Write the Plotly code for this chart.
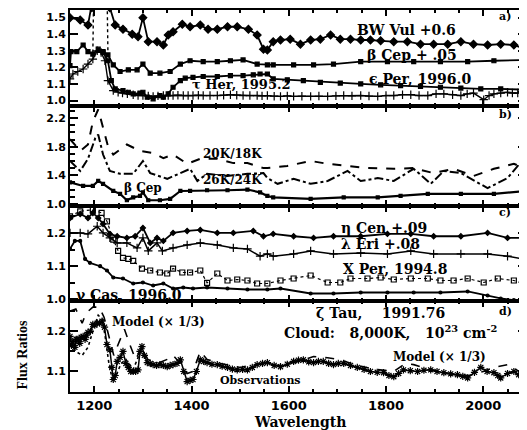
import plotly.graph_objects as go
from plotly.subplots import make_subplots

# ---------------- Panel a ----------------
a_bwvul_x = [1150, 1171, 1187, 1195, 1205, 1225, 1232, 1243, 1259, 1278, 1290, 1300, 1311, 1329, 1342, 1352, 1362,
             1381, 1397, 1418, 1434, 1453, 1474, 1494, 1517, 1535, 1548, 1556, 1568, 1583, 1603, 1624, 1645, 1665,
             1686, 1706, 1727, 1748, 1768, 1789, 1816, 1844, 1871, 1898, 1927, 1954, 1980, 2009, 2036, 2063, 2088]
a_bwvul_y = [1.50, 1.485, 1.455, 1.56, 1.75, 1.75, 1.56, 1.455, 1.43, 1.40, 1.385, 1.50, 1.355, 1.355, 1.335, 1.395, 1.415,
             1.46, 1.445, 1.455, 1.43, 1.43, 1.445, 1.445, 1.43, 1.395, 1.31, 1.305, 1.355, 1.365, 1.37, 1.34, 1.365, 1.37,
             1.395, 1.37, 1.37, 1.365, 1.365, 1.36, 1.355, 1.355, 1.34, 1.34, 1.34, 1.355, 1.34, 1.335, 1.34, 1.335, 1.31]

a_bcep_x = [1150, 1152, 1164, 1177, 1187, 1197, 1208, 1218, 1228, 1239, 1253, 1270, 1288, 1300, 1315, 1335, 1356, 1377,
            1397, 1424, 1453, 1480, 1506, 1535, 1556, 1568, 1610, 1651, 1692, 1748, 1803, 1857, 1912, 1968, 2022, 2088]
a_bcep_y = [1.21, 1.295, 1.295, 1.335, 1.295, 1.28, 1.31, 1.295, 1.275, 1.215, 1.175, 1.185, 1.185, 1.22, 1.165, 1.165,
            1.175, 1.22, 1.24, 1.235, 1.235, 1.24, 1.245, 1.22, 1.215, 1.215, 1.215, 1.215, 1.22, 1.235, 1.235, 1.235,
            1.235, 1.235, 1.24, 1.245]

a_eper_x = [1218, 1228, 1235, 1243, 1259, 1270, 1280, 1294, 1300, 1309, 1321, 1335, 1342, 1352, 1362, 1377, 1387, 1403,
            1424, 1453, 1480, 1506, 1527, 1541, 1556, 1568, 1597, 1630, 1665, 1706, 1748, 1789, 1830, 1871, 1912, 1954,
            1995, 2036, 2088]
a_eper_y = [1.29, 1.24, 1.12, 1.07, 1.06, 1.05, 1.04, 1.045, 1.05, 1.02, 1.01, 1.03, 1.02, 1.04, 1.08, 1.12, 1.135, 1.14,
            1.145, 1.145, 1.15, 1.15, 1.155, 1.16, 1.16, 1.13, 1.125, 1.12, 1.11, 1.105, 1.10, 1.095, 1.09, 1.085, 1.08,
            1.075, 1.07, 1.07, 1.065]

a_ther_x = [1150, 1156, 1166, 1177, 1187, 1197, 1206, 1214, 1222, 1228, 1239, 1249, 1258, 1268, 1280, 1290, 1300, 1311,
            1321, 1331, 1342, 1352, 1362, 1372, 1383, 1393, 1403, 1414, 1424, 1438, 1453, 1466, 1480, 1493, 1506, 1520,
            1535, 1545, 1556, 1570, 1583, 1597, 1610, 1627, 1645, 1662, 1680, 1697, 1713, 1730, 1748, 1765, 1783, 1800,
            1816, 1834, 1851, 1868, 1886, 1903, 1919, 1937, 1954, 1967, 1980, 2001, 2012, 2022, 2036, 2050, 2060, 2071,
            2080, 2088]
a_ther_y = [1.13, 1.16, 1.175, 1.19, 1.22, 1.25, 1.30, 1.29, 1.24, 1.12, 1.06, 1.05, 1.045, 1.04, 1.035, 1.03, 1.03, 1.028,
            1.025, 1.028, 1.03, 1.03, 1.03, 1.032, 1.03, 1.03, 1.03, 1.032, 1.03, 1.03, 1.03, 1.032, 1.035, 1.032, 1.03,
            1.03, 1.03, 1.028, 1.03, 1.026, 1.025, 1.028, 1.025, 1.026, 1.025, 1.027, 1.025, 1.028, 1.03, 1.028, 1.03,
            1.027, 1.025, 1.03, 1.03, 1.035, 1.035, 1.03, 1.03, 1.04, 1.04, 1.035, 1.03, 1.04, 1.045, 1.005, 1.03, 1.04,
            1.045, 1.05, 1.045, 1.045, 1.055, 1.06]

a_dot_x = [1197, 1199, 1226, 1228]
a_dot_y = [1.29, 1.70, 1.70, 1.29]

# ---------------- Panel b ----------------
b_20k_x = [1150, 1171, 1187, 1197, 1208, 1218, 1228, 1239, 1267, 1294, 1321, 1342, 1362, 1391, 1418, 1453, 1486, 1515,
           1548, 1556, 1597, 1645, 1680, 1721, 1762, 1816, 1857, 1898, 1939, 1980, 2022, 2063, 2088]
b_20k_y = [1.905, 1.74, 1.83, 2.15, 2.32, 2.06, 1.81, 1.69, 1.83, 1.74, 1.71, 1.64, 1.69, 1.56, 1.63, 1.63, 1.57, 1.57,
           1.50, 1.50, 1.53, 1.60, 1.56, 1.53, 1.50, 1.49, 1.50, 1.43, 1.49, 1.39, 1.49, 1.56, 1.49]

b_26k_x = [1150, 1171, 1187, 1202, 1208, 1218, 1232, 1253, 1280, 1300, 1315, 1350, 1377, 1397, 1412, 1432, 1474, 1515,
           1548, 1556, 1577, 1610, 1645, 1680, 1721, 1748, 1783, 1816, 1857, 1892, 1919, 1954, 2009, 2050, 2071, 2088]
b_26k_y = [1.60, 1.46, 1.63, 1.92, 1.97, 1.69, 1.46, 1.42, 1.42, 1.60, 1.43, 1.35, 1.43, 1.49, 1.32, 1.42, 1.39, 1.42,
           1.43, 1.36, 1.28, 1.35, 1.28, 1.32, 1.46, 1.32, 1.36, 1.32, 1.49, 1.28, 1.46, 1.43, 1.22, 1.36, 1.53, 1.46]

b_bcep_x = [1150, 1177, 1197, 1208, 1218, 1239, 1253, 1267, 1280, 1294, 1300, 1311, 1335, 1356, 1377, 1397, 1432, 1474,
            1515, 1541, 1556, 1568, 1645, 1713, 1783, 1830, 1886, 1954, 2022, 2088]
b_bcep_y = [1.30, 1.25, 1.25, 1.32, 1.28, 1.18, 1.14, 1.05, 1.09, 1.11, 1.16, 1.05, 1.05, 1.07, 1.18, 1.18, 1.19, 1.19,
            1.20, 1.16, 1.11, 1.09, 1.07, 1.09, 1.09, 1.11, 1.14, 1.14, 1.14, 1.18]

# ---------------- Panel c ----------------
c_ecen_x = [1150, 1171, 1187, 1197, 1208, 1218, 1232, 1247, 1267, 1284, 1300, 1315, 1329, 1342, 1362, 1391, 1418, 1453,
            1486, 1527, 1548, 1568, 1610, 1651, 1692, 1748, 1803, 1851, 1898, 1954, 2009, 2050, 2088]
c_ecen_y = [1.245, 1.257, 1.245, 1.26, 1.245, 1.227, 1.197, 1.19, 1.185, 1.19, 1.215, 1.17, 1.185, 1.176, 1.20, 1.206,
            1.209, 1.20, 1.20, 1.206, 1.19, 1.197, 1.19, 1.185, 1.19, 1.19, 1.197, 1.197, 1.19, 1.19, 1.20, 1.185, 1.185]

c_leri_x = [1150, 1171, 1187, 1206, 1218, 1232, 1247, 1267, 1288, 1300, 1311, 1329, 1340, 1362, 1391, 1418, 1453, 1486,
            1515, 1541, 1556, 1568, 1610, 1645, 1692, 1748, 1803, 1851, 1898, 1954, 2009, 2050, 2088]
c_leri_y = [1.20, 1.20, 1.197, 1.22, 1.20, 1.185, 1.17, 1.17, 1.155, 1.185, 1.146, 1.17, 1.146, 1.155, 1.164, 1.17, 1.164,
            1.155, 1.152, 1.13, 1.137, 1.13, 1.137, 1.146, 1.137, 1.14, 1.137, 1.146, 1.137, 1.137, 1.137, 1.13, 1.12]

c_xper_x = [1150, 1171, 1197, 1215, 1226, 1239, 1249, 1259, 1270, 1280, 1298, 1315, 1335, 1350, 1362, 1381, 1397, 1418,
            1432, 1453, 1474, 1494, 1515, 1535, 1556, 1583, 1610, 1645, 1680, 1706, 1727, 1762, 1789, 1816, 1851, 1886,
            1912, 1939, 1968, 2001, 2030, 2063, 2088]
c_xper_y = [1.25, 1.265, 1.27, 1.26, 1.235, 1.18, 1.146, 1.125, 1.122, 1.116, 1.093, 1.087, 1.081, 1.078, 1.093, 1.081,
            1.081, 1.087, 1.05, 1.078, 1.057, 1.06, 1.057, 1.048, 1.048, 1.057, 1.063, 1.072, 1.051, 1.051, 1.063, 1.063,
            1.066, 1.06, 1.063, 1.063, 1.057, 1.057, 1.063, 1.051, 1.063, 1.057, 1.045]

c_gcas_x = [1150, 1160, 1171, 1181, 1191, 1212, 1226, 1239, 1259, 1280, 1300, 1321, 1342, 1362, 1383, 1403, 1432, 1474,
            1515, 1556, 1583, 1645, 1692, 1748, 1803, 1857, 1912, 1968, 2009, 2036, 2063, 2088]
c_gcas_y = [1.152, 1.176, 1.176, 1.122, 1.11, 1.10, 1.087, 1.066, 1.063, 1.048, 1.051, 1.042, 1.048, 1.033, 1.036, 1.033,
            1.036, 1.033, 1.03, 1.03, 1.033, 1.018, 1.018, 1.021, 1.021, 1.021, 1.021, 1.024, 1.012, 1.003, 0.998, 0.99]

# ---------------- Panel d ----------------
d_obs_x = [1150, 1153, 1156, 1160, 1163, 1166, 1170, 1173, 1177, 1181, 1184, 1187, 1192, 1197, 1201, 1206, 1211, 1216,
           1221, 1226, 1232, 1236, 1239, 1243, 1247, 1253, 1259, 1265, 1270, 1275, 1280, 1285, 1290, 1294, 1298, 1303,
           1309, 1315, 1321, 1328, 1335, 1342, 1350, 1356, 1362, 1370, 1377, 1384, 1391, 1397, 1403, 1410, 1418, 1425,
           1432, 1442, 1453, 1463, 1474, 1484, 1494, 1505, 1515, 1525, 1535, 1546, 1556, 1570, 1583, 1597, 1610, 1620,
           1630, 1641, 1651, 1661, 1671, 1682, 1692, 1702, 1713, 1727, 1741, 1755, 1768, 1782, 1795, 1806, 1816, 1826,
           1836, 1850, 1865, 1878, 1892, 1905, 1919, 1933, 1947, 1958, 1968, 1982, 1995, 2008, 2022, 2030, 2036, 2050,
           2063, 2073, 2083]
d_obs_y = [1.187, 1.165, 1.175, 1.16, 1.18, 1.18, 1.17, 1.185, 1.187, 1.18, 1.19, 1.197, 1.2, 1.217, 1.215, 1.22, 1.22, 1.225,
           1.21, 1.167, 1.154, 1.11, 1.08, 1.09, 1.125, 1.135, 1.15, 1.12, 1.11, 1.1, 1.10, 1.1, 1.104, 1.15, 1.162, 1.14,
           1.122, 1.12, 1.117, 1.115, 1.117, 1.115, 1.112, 1.115, 1.117, 1.12, 1.129, 1.1, 1.075, 1.078, 1.08, 1.1, 1.129,
           1.125, 1.122, 1.118, 1.117, 1.113, 1.11, 1.106, 1.104, 1.105, 1.104, 1.11, 1.117, 1.12, 1.122, 1.115, 1.112,
           1.118, 1.125, 1.128, 1.129, 1.124, 1.122, 1.125, 1.125, 1.12, 1.117, 1.12, 1.12, 1.115, 1.11, 1.105, 1.10,
           1.098, 1.097, 1.09, 1.087, 1.095, 1.104, 1.102, 1.10, 1.103, 1.104, 1.1, 1.097, 1.094, 1.092, 1.088, 1.084,
           1.098, 1.11, 1.1, 1.097, 1.09, 1.084, 1.095, 1.10, 1.092, 1.087]

d_model_x = [1150, 1162, 1175, 1183, 1197, 1210, 1220, 1230, 1240, 1250, 1262, 1272, 1285, 1298, 1310, 1330, 1350, 1362,
             1377, 1391, 1403, 1418, 1432, 1460, 1500, 1540, 1580, 1620, 1651, 1680, 1706, 1740, 1780, 1816, 1840, 1857,
             1890, 1930, 1970, 2000, 2022, 2050, 2075, 2088]
d_model_y = [1.25, 1.255, 1.22, 1.245, 1.26, 1.26, 1.235, 1.19, 1.14, 1.17, 1.205, 1.17, 1.13, 1.16, 1.13, 1.12, 1.13,
             1.14, 1.12, 1.095, 1.10, 1.15, 1.13, 1.12, 1.11, 1.12, 1.115, 1.125, 1.137, 1.134, 1.129, 1.115, 1.105, 1.10,
             1.12, 1.117, 1.105, 1.095, 1.09, 1.10, 1.11, 1.117, 1.10, 1.09]

d_model2_x = [1150, 1162, 1175, 1187, 1197, 1208, 1216, 1222, 1230, 1238, 1245, 1255, 1265, 1280, 1295, 1305, 1320]
d_model2_y = [1.17, 1.15, 1.14, 1.16, 1.20, 1.24, 1.23, 1.19, 1.12, 1.075, 1.09, 1.12, 1.13, 1.105, 1.15, 1.13, 1.11]

# ---------------- Figure ----------------
fig = make_subplots(rows=4, cols=1, shared_xaxes=True, vertical_spacing=0,
                    row_heights=[96, 101, 96, 91])

K = "black"
LW = 1.8


def add(x, y, row, dash="solid", symbol=None, size=5, width=LW, mode=None):
    if mode is None:
        mode = "lines+markers" if symbol else "lines"
    marker = dict(symbol=symbol, size=size, color=K, line=dict(color=K, width=1.2)) if symbol else None
    fig.add_trace(go.Scatter(x=x, y=y, mode=mode, line=dict(color=K, width=width, dash=dash),
                             marker=marker, hoverinfo="skip"), row=row, col=1)


# panel a
add(a_bwvul_x, a_bwvul_y, 1, symbol="diamond", size=6)
add(a_bcep_x, a_bcep_y, 1, symbol="square", size=4)
add(a_eper_x, a_eper_y, 1, symbol="square", size=4)
add(a_ther_x, a_ther_y, 1, symbol="cross-thin-open", size=6, width=1.4)
add(a_dot_x, a_dot_y, 1, dash="dot", width=1.4)

# panel b
add(b_20k_x, b_20k_y, 2, dash="dash", width=2)
add(b_26k_x, b_26k_y, 2, dash="dashdot", width=2)
add(b_bcep_x, b_bcep_y, 2, symbol="square", size=3, width=2.2)

# panel c
add(c_ecen_x, c_ecen_y, 3, symbol="diamond", size=4)
add(c_leri_x, c_leri_y, 3, symbol="cross-thin-open", size=6, width=1.5)
add(c_xper_x, c_xper_y, 3, dash="dot", symbol="square-open", size=5, width=1.2)
add(c_gcas_x, c_gcas_y, 3, symbol="circle", size=3)

# panel d
add(d_model_x, d_model_y, 4, dash="dash", width=1.6)
add(d_model2_x, d_model2_y, 4, dash="dot", width=1.6)
add(d_obs_x, d_obs_y, 4, symbol="asterisk-open", size=6, width=1.5)

TICKF = dict(family="DejaVu Sans", size=11, color=K, weight="bold")
axis_common = dict(showline=True, linecolor=K, linewidth=2, mirror="allticks", ticks="inside",
                   tickcolor=K, showgrid=False, zeroline=False)

for r in range(1, 5):
    fig.update_xaxes(range=[1150, 2088], tickvals=[1200, 1400, 1600, 1800, 2000], ticklen=6, tickwidth=1.5,
                     minor=dict(dtick=50, ticklen=3, tickcolor=K, ticks="inside", showgrid=False),
                     showticklabels=(r == 4), tickfont=dict(family="DejaVu Sans", size=13, color=K, weight="bold"),
                     row=r, col=1, **axis_common)

fig.update_yaxes(range=[0.97, 1.546], tickvals=[1.0, 1.1, 1.2, 1.3, 1.4, 1.5], ticktext=["1.0", "1.1", "1.2", "1.3", "1.4", "1.5"],
                 ticklen=8, tickwidth=1.5, tickfont=TICKF, row=1, col=1, **axis_common)
fig.update_yaxes(range=[0.97, 2.376], tickvals=[1.0, 1.4, 1.8, 2.2], ticktext=["1.0", "1.4", "1.8", "2.2"],
                 ticklen=8, tickwidth=1.5, tickfont=TICKF,
                 minor=dict(dtick=0.1, ticklen=5, tickcolor=K, ticks="inside", showgrid=False),
                 row=2, col=1, **axis_common)
fig.update_yaxes(range=[0.994, 1.281], tickvals=[1.0, 1.1, 1.2], ticktext=["1.0", "1.1", "1.2"],
                 ticklen=8, tickwidth=1.5, tickfont=TICKF,
                 minor=dict(dtick=0.05, ticklen=5, tickcolor=K, ticks="inside", showgrid=False),
                 row=3, col=1, **axis_common)
fig.update_yaxes(range=[1.049, 1.274], tickvals=[1.1, 1.2], ticktext=["1.1", "1.2"],
                 ticklen=8, tickwidth=1.5, tickfont=TICKF,
                 minor=dict(dtick=0.05, ticklen=5, tickcolor=K, ticks="inside", showgrid=False),
                 row=4, col=1, **axis_common)

SERIF = "DejaVu Serif"
SP = "\u00a0"


def note(text, x, y, size=14, family=SERIF, angle=0):
    fig.add_annotation(text=text, x=x, y=y, xref="paper", yref="paper", showarrow=False,
                       xanchor="center", yanchor="middle", textangle=angle,
                       font=dict(family=family, size=size, color=K, weight="bold"))


note("BW Vul +0.6", 0.739, 0.948)
note("β Cep + .05", 0.750, 0.883)
note("ϵ Per, 1996.0", 0.768, 0.820)
note("τ Her, 1995.2", 0.377, 0.805, size=13)
note("a)", 0.954, 0.982, size=11)
note("20K/18K", 0.357, 0.622, size=12)
note("26K/24K", 0.357, 0.555, size=12)
note("β Cep", 0.160, 0.534, size=12)
note("b)", 0.954, 0.727, size=11)
note("η Cen" + SP + "+.09", 0.689, 0.430)
note("λ Eri" + SP + "+.08", 0.680, 0.388)
note("X Per, 1994.8", 0.713, 0.323)
note("γ Cas, 1996.0", 0.129, 0.253)
note("c)", 0.954, 0.471, size=11)
note("ζ Tau," + SP * 4 + "1991.76", 0.680, 0.206)
note("Cloud:" + SP * 3 + "8,000K," + SP * 3 + "10<sup>23</sup>" + SP + "cm<sup>-2</sup>", 0.702, 0.156)
note("d)", 0.954, 0.211, size=11)
note("Model (× 1/3)", 0.195, 0.182, size=12)
note("Model (× 1/3)", 0.811, 0.091, size=12)
note("Observations", 0.417, 0.029, size=11)
note("Flux Ratios", -0.105, 0.096, size=14, family="Liberation Serif", angle=-90)
note("Wavelength", 0.504, -0.078, size=14)

# The page body has an 8px default margin; margins are offset to compensate.
fig.update_layout(width=527, height=430, margin=dict(l=62, r=9, t=0, b=46),
                  plot_bgcolor="white", paper_bgcolor="white", showlegend=False)

fig.write_html("out.html")
